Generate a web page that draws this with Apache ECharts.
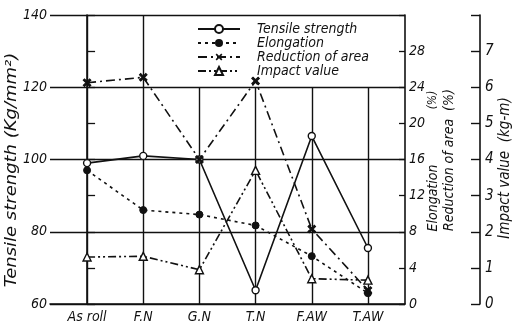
<!DOCTYPE html>
<html><head><meta charset="utf-8">
<script src="https://cdn.jsdelivr.net/npm/echarts@6/dist/echarts.min.js"></script>
<style>html,body{margin:0;padding:0;background:#fff}#c{width:515px;height:332px}</style>
</head><body><div id="c"></div>
<script>
const categories = ['As roll', 'F.N', 'G.N', 'T.N', 'F.AW', 'T.AW'];
const tensileStrength = [99, 101, 100, 63.8, 106.5, 75.5];   // kg/mm2
const elongation = [14.8, 10.4, 9.9, 8.7, 5.3, 1.2];        // %
const reductionOfArea = [24.5, 25.1, 16, 24.7, 8.3, 1.5];   // %
const impactValue = [1.3, 1.32, 0.95, 3.7, 0.7, 0.66];      // kg-m

const FONT = "'Liberation Sans Narrow','DejaVu Sans Condensed','Liberation Sans',sans-serif";
const INK = '#111';
const lbl = {color: INK, fontStyle: 'italic', fontFamily: FONT, fontSize: 14};
const toXY = arr => arr.map((v, i) => [i, v]);

const chart = echarts.init(document.getElementById('c'), null, {renderer: 'canvas'});
chart.setOption({
  backgroundColor: '#fff',
  animation: false,
  grid: {left: 50, right: 110, top: 15, bottom: 28},
  legend: {
    orient: 'vertical', left: 197, top: 22, padding: 0,
    itemWidth: 42, itemHeight: 10, itemGap: 0,
    textStyle: {color: INK, fontStyle: 'italic', fontFamily: FONT, fontSize: 14, lineHeight: 14, padding: [0, 0, 0, 12]},
    data: ['Tensile strength', 'Elongation', 'Reduction of area', 'Impact value']
  },
  xAxis: {
    type: 'value', min: -0.66, max: 5.66,
    axisLine: {show: true, lineStyle: {color: INK, width: 1.6}},
    axisTick: {show: false},
    splitLine: {show: false},
    axisLabel: Object.assign({}, lbl, {
      customValues: categories.map((c, i) => i),
      formatter: v => categories[Math.round(v)] || '', margin: 6
    })
  },
  yAxis: [
    {
      type: 'value', position: 'left', min: 60, max: 140, interval: 20,
      axisLine: {show: true, lineStyle: {color: INK, width: 1.6}},
      axisTick: {show: true, inside: true, length: 8, lineStyle: {color: INK, width: 1.3}},
      minorTick: {show: true, splitNumber: 2, length: 8, lineStyle: {color: INK, width: 1.3}},
      splitLine: {show: true, lineStyle: {color: INK, width: 1.4}},
      axisLabel: Object.assign({}, lbl, {margin: 3})
    },
    {
      type: 'value', position: 'right', min: 0, max: 32, interval: 4,
      axisLine: {show: true, lineStyle: {color: INK, width: 1.6}},
      axisTick: {show: true, inside: true, length: 6, lineStyle: {color: INK, width: 1.3}},
      splitLine: {show: false},
      axisLabel: Object.assign({}, lbl, {margin: 4, formatter: v => v === 32 ? '' : v})
    },
    {
      type: 'value', position: 'right', offset: 75, min: 0, max: 8, interval: 1,
      axisLine: {show: true, lineStyle: {color: INK, width: 1.6}},
      axisTick: {show: true, inside: true, length: 9, lineStyle: {color: INK, width: 1.4}},
      splitLine: {show: false},
      axisLabel: Object.assign({}, lbl, {fontSize: 15, margin: 5, formatter: v => v === 8 ? '' : v})
    }
  ],
  graphic: [
    {type: 'text', x: 12, y: 170, rotation: Math.PI / 2, scaleX: 1.25,
     style: {text: 'Tensile strength (Kg/mm²)', fill: INK, font: 'italic 16px ' + FONT, align: 'center', verticalAlign: 'middle'}},
    {type: 'text', x: 433, y: 198, rotation: Math.PI / 2,
     style: {text: 'Elongation', fill: INK, font: 'italic 14px ' + FONT, align: 'center', verticalAlign: 'middle'}},
    {type: 'text', x: 433, y: 100, rotation: Math.PI / 2,
     style: {text: '(%)', fill: INK, font: 'italic 12px ' + FONT, align: 'center', verticalAlign: 'middle'}},
    {type: 'text', x: 449, y: 160, rotation: Math.PI / 2,
     style: {text: 'Reduction of area  (%)', fill: INK, font: 'italic 14px ' + FONT, align: 'center', verticalAlign: 'middle'}},
    {type: 'text', x: 505, y: 168, rotation: Math.PI / 2,
     style: {text: 'Impact value  (kg-m)', fill: INK, font: 'italic 15px ' + FONT, align: 'center', verticalAlign: 'middle'}}
  ],
  series: [
    {
      name: 'Tensile strength', type: 'line', yAxisIndex: 0,
      data: toXY(tensileStrength),
      symbol: 'circle', symbolSize: 7, showAllSymbol: true,
      lineStyle: {color: INK, width: 1.6, type: 'solid'},
      itemStyle: {color: '#fff', borderColor: INK, borderWidth: 1.4},
      z: 5,
      markLine: {
        silent: true, symbol: 'none', label: {show: false},
        lineStyle: {color: INK, width: 1.4, type: 'solid'},
        data: categories.map((c, i) => [{coord: [i, 60]}, {coord: [i, i < 2 ? 140 : 120]}])
      }
    },
    {
      name: 'Elongation', type: 'line', yAxisIndex: 1,
      data: toXY(elongation),
      symbol: 'circle', symbolSize: 7,
      lineStyle: {color: INK, width: 1.6, type: [3, 4]},
      itemStyle: {color: INK, borderColor: INK},
      z: 5
    },
    {
      name: 'Reduction of area', type: 'line', yAxisIndex: 1,
      data: toXY(reductionOfArea),
      symbol: 'path://M4,0H6V4H10V6H6V10H4V6H0V4H4Z', symbolRotate: 45, symbolSize: 9,
      lineStyle: {color: INK, width: 1.6, type: [9, 4, 2, 4]},
      itemStyle: {color: INK, borderColor: INK},
      z: 5
    },
    {
      name: 'Impact value', type: 'line', yAxisIndex: 2,
      data: toXY(impactValue),
      symbol: 'triangle', symbolSize: 8,
      lineStyle: {color: INK, width: 1.6, type: [8, 3, 2, 3, 2, 3]},
      itemStyle: {color: '#fff', borderColor: INK, borderWidth: 1.4},
      z: 5
    }
  ]
});
</script></body></html>
